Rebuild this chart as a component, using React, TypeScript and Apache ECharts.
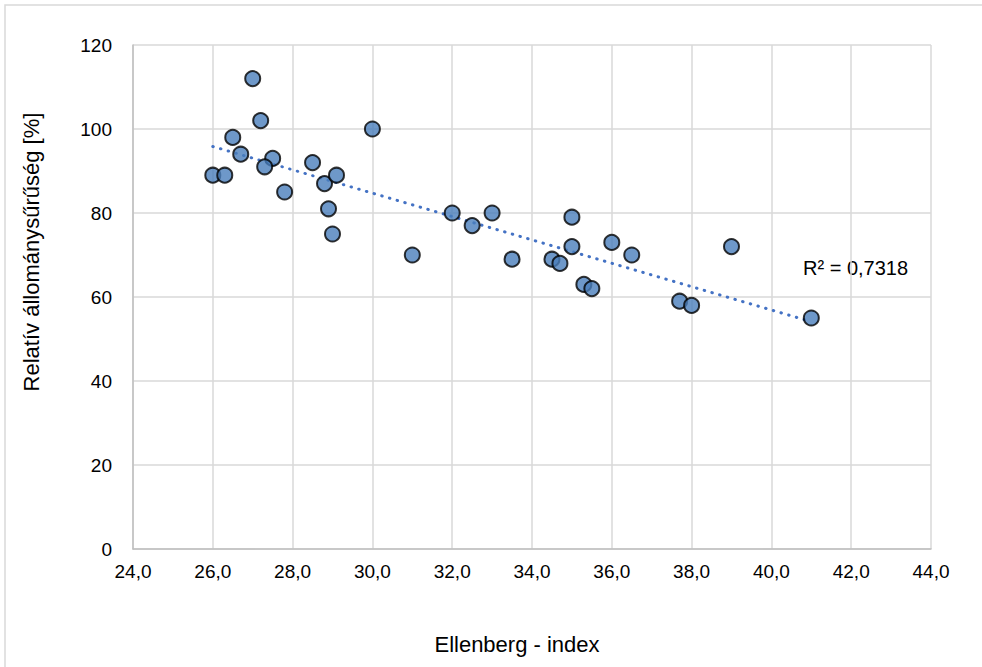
import React, { useEffect, useRef } from "react";
import * as echarts from "echarts";

const ellenberg: number[] = [
  26.0, 26.3, 26.5, 26.7, 27.0, 27.2, 27.5, 27.3, 27.8, 28.5, 28.8, 28.9, 29.1, 29.0,
  30.0, 31.0, 32.0, 32.5, 33.0, 33.5, 34.5, 34.7, 35.0, 35.0, 35.3, 35.5, 36.0, 36.5,
  37.7, 38.0, 39.0, 41.0,
];
const density: number[] = [
  89, 89, 98, 94, 112, 102, 93, 91, 85, 92, 87, 81, 89, 75,
  100, 70, 80, 77, 80, 69, 69, 68, 79, 72, 63, 62, 73, 70,
  59, 58, 72, 55,
];
const xTitle = "Ellenberg - index";
const yTitle = "Relatív állománysűrűség [%]";
const r2Label = "R² = 0,7318";

function linReg(xs: number[], ys: number[]) {
  const n = xs.length;
  const mx = xs.reduce((a, b) => a + b, 0) / n;
  const my = ys.reduce((a, b) => a + b, 0) / n;
  let sxy = 0, sxx = 0;
  for (let i = 0; i < n; i++) {
    sxy += (xs[i] - mx) * (ys[i] - my);
    sxx += (xs[i] - mx) * (xs[i] - mx);
  }
  const b = sxy / sxx;
  return { a: my - b * mx, b };
}

export default function App() {
  const ref = useRef<HTMLDivElement>(null);
  useEffect(() => {
    if (!ref.current) return;
    const chart = echarts.init(ref.current, undefined, { renderer: "svg" });
    const { a, b } = linReg(ellenberg, density);
    const x0 = Math.min(...ellenberg);
    const x1 = Math.max(...ellenberg);
    const font = "'Liberation Sans', Arial, sans-serif";
    chart.setOption({
      animation: false,
      backgroundColor: "#ffffff",
      grid: { left: 133, right: 51, top: 45, bottom: 118, containLabel: false },
      xAxis: {
        type: "value",
        min: 24,
        max: 44,
        interval: 2,
        axisLine: { show: true, lineStyle: { color: "#bfbfbf", width: 1.5 } },
        axisTick: { show: false },
        splitLine: { show: true, lineStyle: { color: "#d9d9d9", width: 1.5 } },
        axisLabel: {
          color: "#000",
          fontFamily: font,
          fontSize: 19,
          margin: 13,
          formatter: (v: number) => v.toFixed(1).replace(".", ","),
        },
      },
      yAxis: {
        type: "value",
        min: 0,
        max: 120,
        interval: 20,
        axisLine: { show: true, lineStyle: { color: "#bfbfbf", width: 1.5 } },
        axisTick: { show: false },
        splitLine: { show: true, lineStyle: { color: "#d9d9d9", width: 1.5 } },
        axisLabel: { color: "#000", fontFamily: font, fontSize: 19, margin: 21 },
      },
      series: [
        {
          type: "line",
          data: [
            [x0, a + b * x0],
            [x1, a + b * x1],
          ],
          symbol: "none",
          lineStyle: { color: "#4472c4", width: 3, type: [0.5, 7.5], cap: "round" },
          z: 1,
        },
        {
          type: "scatter",
          data: ellenberg.map((x, i) => [x, density[i]]),
          symbol: "circle",
          symbolSize: 15,
          itemStyle: { color: "#4a7ebb", borderColor: "#000", borderWidth: 2 },
          z: 2,
        },
      ],
      graphic: [
        {
          type: "rect",
          shape: { x: 5, y: 5, width: 1000, height: 700 },
          style: { fill: "none", stroke: "#d9d9d9", lineWidth: 1.5 },
          silent: true,
        },
        {
          type: "text",
          x: 517,
          y: 644,
          style: {
            text: xTitle,
            font: `22px ${font}`,
            fill: "#000",
            align: "center",
            verticalAlign: "middle",
          },
        },
        {
          type: "text",
          x: 31,
          y: 252,
          rotation: Math.PI / 2,
          style: {
            text: yTitle,
            font: `22px ${font}`,
            fill: "#000",
            align: "center",
            verticalAlign: "middle",
          },
        },
        {
          type: "text",
          x: 803,
          y: 268,
          style: {
            text: r2Label,
            font: `20px ${font}`,
            fill: "#000",
            align: "left",
            verticalAlign: "middle",
          },
        },
      ],
    });
    return () => chart.dispose();
  }, []);
  return (
    <div
      ref={ref}
      style={{ position: "fixed", left: 0, top: 0, width: 982, height: 667 }}
    />
  );
}
